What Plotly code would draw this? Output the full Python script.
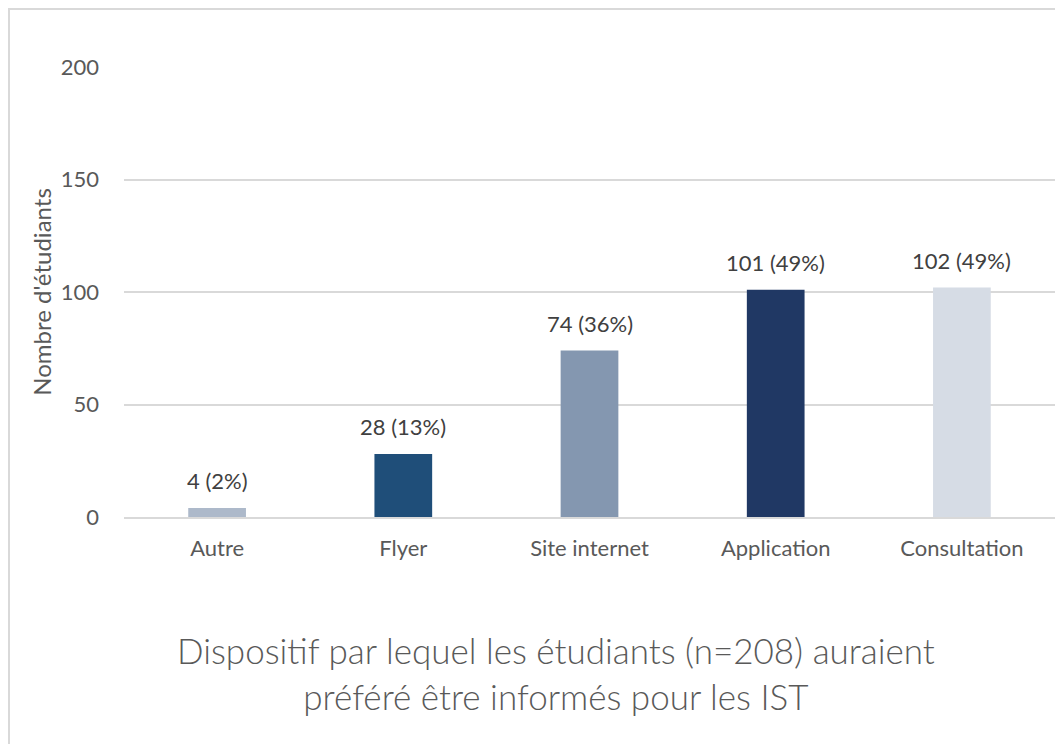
import plotly.graph_objects as go

# Données du graphique
categories = ["Autre", "Flyer", "Site internet", "Application", "Consultation"]
effectifs = [4, 28, 74, 101, 102]
pourcentages = [2, 13, 36, 49, 49]
couleurs = ["#ADB9CA", "#1F4E79", "#8497B0", "#203864", "#D6DCE5"]
y_ticks = [0, 50, 100, 150, 200]

labels = [f"{n} ({p}%)" for n, p in zip(effectifs, pourcentages)]

# la page ajoute une marge de 8 px autour de la figure
W, H = 1055, 736
L, R, T, B = 116, 8, 59, 227
PW, PH = W - L - R, H - T - B
police = "Lato, 'Open Sans', sans-serif"
gris = "#595959"

fig = go.Figure(go.Bar(
    x=categories,
    y=effectifs,
    marker=dict(color=couleurs, line=dict(width=0)),
    hoverinfo="x+y",
))

fig.update_layout(
    width=W, height=H,
    margin=dict(l=L, r=R, t=T, b=B, autoexpand=False),
    paper_bgcolor="white",
    plot_bgcolor="white",
    bargap=0.69,
    showlegend=False,
    font=dict(family=police, color=gris, size=22),
    xaxis=dict(
        showgrid=False, showline=True, linecolor="#D9D9D9", linewidth=2,
        ticks="", tickfont=dict(size=22, color=gris), ticklabelstandoff=11,
    ),
    yaxis=dict(
        range=[0, 200], tickvals=y_ticks, showgrid=True, gridcolor="#D9D9D9",
        gridwidth=2, zeroline=False, showline=False, ticks="",
        tickfont=dict(size=22, color=gris), ticklabelstandoff=24,
        title=dict(text="Nombre d'étudiants", font=dict(size=24, color=gris), standoff=2),
    ),
    shapes=[dict(type="rect", xref="paper", yref="paper",
                 x0=(1 - L) / PW, x1=(1054 - L) / PW,
                 y0=-(745 - T - PH) / PH, y1=1 + (T - 1) / PH,
                 line=dict(color="#D9D9D9", width=2))],
)

# étiquettes de données au-dessus des barres
for cat, val, lab in zip(categories, effectifs, labels):
    fig.add_annotation(x=cat, y=val, text=lab, showarrow=False,
                       yanchor="bottom", yshift=12,
                       font=dict(size=22, color="#404040", family=police))

# titre en bas du graphique
fig.add_annotation(
    text="Dispositif par lequel les étudiants (n=208) auraient<br>préféré être informés pour les IST",
    xref="paper", yref="paper", x=(548 - L) / PW, y=-(665 - T - PH) / PH,
    showarrow=False, xanchor="center", yanchor="middle",
    font=dict(size=35, color=gris, family=police, weight=300),
)

fig.write_html("out.html")
